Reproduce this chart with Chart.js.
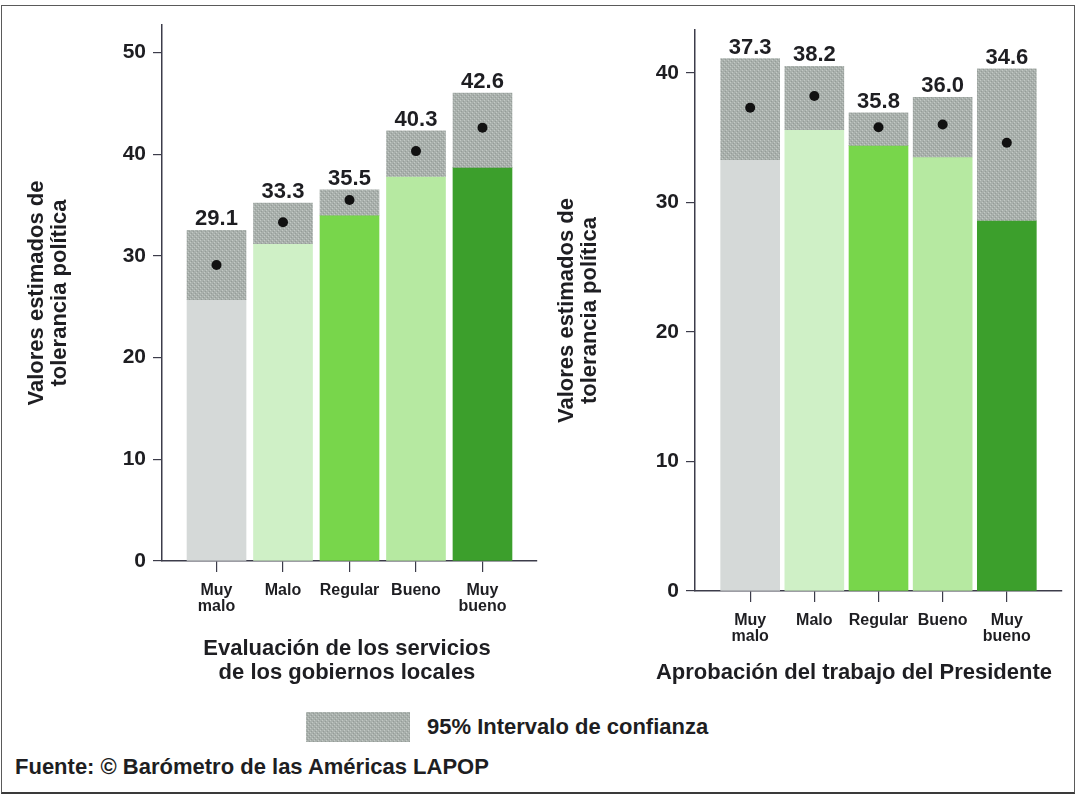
<!DOCTYPE html>
<html>
<head>
<meta charset="utf-8">
<script src="https://cdn.jsdelivr.net/npm/chart.js@4/dist/chart.umd.min.js"></script>
<style>
  body { margin: 0; background: #fff; width: 1083px; height: 802px; position: relative; overflow: hidden;
    font-family: "Liberation Sans", Arial, Helvetica, sans-serif; color: #1e1e22; }
  #frame { position: absolute; left: 1px; top: 5px; width: 1072px; height: 786px;
    border: 1.5px solid #5a5a5a; border-bottom: 2.5px solid #3a3a3a; }
  .holder { position: absolute; top: 0; }
  .xtitle { position: absolute; font-weight: bold; font-size: 22px; line-height: 24px; text-align: center; white-space: nowrap; }
  #legend { position: absolute; left: 306px; top: 712px; height: 30px; display: flex; align-items: center; }
  #legend .swatch { width: 104px; height: 30px; margin-right: 17px; }
  #legend span { font-weight: bold; font-size: 22px; }
  #source { position: absolute; left: 15px; top: 754px; font-weight: bold; font-size: 22px; white-space: nowrap; }
</style>
</head>
<body>
<div id="frame"></div>
<div class="holder" style="left:0px"><canvas id="left" width="545" height="700"></canvas></div>
<div class="holder" style="left:540px"><canvas id="right" width="540" height="700"></canvas></div>
<div class="xtitle" style="left:347px; top:636px; transform:translateX(-50%)">Evaluación de los servicios<br>de los gobiernos locales</div>
<div class="xtitle" style="left:854px; top:660px; transform:translateX(-50%)">Aprobación del trabajo del Presidente</div>
<div id="legend"><canvas class="swatch" id="swatch" width="104" height="30"></canvas><span>95% Intervalo de confianza</span></div>
<div id="source">Fuente: © Barómetro de las Américas LAPOP</div>
<script>
// categories (shared by both panels)
const categories = [["Muy", "malo"], "Malo", "Regular", "Bueno", ["Muy", "bueno"]];
const barColors = ["#d5d9d8", "#cff0c6", "#78d64b", "#b6e9a1", "#3c9f2c"];

// panel 1: evaluación de los servicios de los gobiernos locales
const servMeans = [29.1, 33.3, 35.5, 40.3, 42.6];
const servLower = [25.7, 31.2, 34.0, 37.8, 38.7];
const servUpper = [32.5, 35.2, 36.5, 42.3, 46.0];

// panel 2: aprobación del trabajo del Presidente
const presMeans = [37.3, 38.2, 35.8, 36.0, 34.6];
const presLower = [33.3, 35.6, 34.4, 33.5, 28.6];
const presUpper = [41.1, 40.5, 36.9, 38.1, 40.3];

const yTitle = ["Valores estimados de", "tolerancia política"];
const axisColor = "#3c3c4a";
const textColor = "#1e1e22";
const fontFamily = "'Liberation Sans', Arial, Helvetica, sans-serif";

function makeHatch() {
  const c = document.createElement("canvas");
  c.width = 4; c.height = 4;
  const g = c.getContext("2d");
  g.fillStyle = "#a9b0ac";
  g.fillRect(0, 0, 4, 4);
  g.fillStyle = "#c3c9c5";
  g.fillRect(0, 0, 1, 1); g.fillRect(2, 2, 1, 1);
  g.fillStyle = "#959c98";
  g.fillRect(1, 3, 1, 1); g.fillRect(3, 1, 1, 1);
  return g.createPattern(c, "repeat");
}
const hatch = makeHatch();

// swatch in the legend
(() => {
  const sw = document.getElementById("swatch").getContext("2d");
  sw.fillStyle = hatch;
  sw.fillRect(0, 0, 104, 30);
})();

const valueLabels = {
  id: "valueLabels",
  afterDatasetsDraw(chart, args, opts) {
    const {ctx, scales: {x, y}} = chart;
    ctx.save();
    ctx.font = `bold 22px ${fontFamily}`;
    ctx.fillStyle = textColor;
    ctx.textAlign = "center";
    ctx.textBaseline = "alphabetic";
    opts.means.forEach((m, i) => {
      ctx.fillText(m.toFixed(1), x.getPixelForValue(i), y.getPixelForValue(opts.upper[i]) - 5);
    });
    ctx.restore();
  },
};

function buildChart(id, cfg) {
  const {means, lower, upper, yMax, xPad, yWidth, xHeight, padTop, padRight, titlePad} = cfg;
  return new Chart(document.getElementById(id), {
    type: "bar",
    data: {
      datasets: [
        {
          type: "scatter",
          data: means.map((m, i) => ({x: i, y: m})),
          pointRadius: 5,
          pointBackgroundColor: "#111",
          pointBorderWidth: 0,
          order: 0,
        },
        {
          data: lower.map((l, i) => ({x: i, y: [l, upper[i]]})),
          backgroundColor: hatch,
          barThickness: 59,
          grouped: false,
          order: 1,
        },
        {
          data: lower.map((l, i) => ({x: i, y: [0, l]})),
          backgroundColor: barColors,
          barThickness: 59,
          grouped: false,
          order: 2,
        },
      ],
    },
    options: {
      responsive: false,
      animation: false,
      events: [],
      layout: {padding: {top: padTop, right: padRight, left: 0, bottom: 0}},
      plugins: {
        legend: {display: false},
        tooltip: {enabled: false},
        valueLabels: {means, upper},
      },
      scales: {
        x: {
          type: "linear",
          offset: false,
          min: -xPad,
          max: categories.length - 1 + xPad,
          afterBuildTicks: scale => {
            scale.ticks = categories.map((c, i) => ({value: i}));
          },
          afterFit: scale => { scale.height = xHeight; },
          ticks: {
            callback: v => categories[v],
            color: textColor,
            font: {family: fontFamily, size: 16, weight: "bold", lineHeight: 1.0},
            padding: 11,
            maxRotation: 0,
          },
          grid: {offset: false, drawOnChartArea: false, tickLength: 11, color: axisColor, lineWidth: 1.2},
          border: {color: axisColor, width: 1.5},
        },
        y: {
          min: 0,
          max: yMax,
          afterBuildTicks: scale => {
            scale.ticks = scale.ticks.filter(t => t.value % 10 === 0);
          },
          afterFit: scale => { scale.width = yWidth; },
          ticks: {
            stepSize: 10,
            color: textColor,
            font: {family: fontFamily, size: 21, weight: "bold"},
            padding: 7,
          },
          grid: {drawOnChartArea: false, tickLength: 9, color: axisColor, lineWidth: 1.2},
          border: {color: axisColor, width: 1.5},
          title: {
            display: true,
            text: yTitle,
            color: textColor,
            font: {family: fontFamily, size: 22, weight: "bold", lineHeight: 1.05},
            padding: {top: titlePad, bottom: 0},
          },
        },
      },
    },
    plugins: [valueLabels],
  });
}

buildChart("left", {
  means: servMeans, lower: servLower, upper: servUpper,
  yMax: 52.7, xPad: 0.82, yWidth: 162, xHeight: 139, padTop: 25, padRight: 8, titlePad: 25,
});
buildChart("right", {
  means: presMeans, lower: presLower, upper: presUpper,
  yMax: 43.3, xPad: 0.86, yWidth: 155, xHeight: 109, padTop: 30, padRight: 18, titlePad: 15,
});
</script>
</body>
</html>
